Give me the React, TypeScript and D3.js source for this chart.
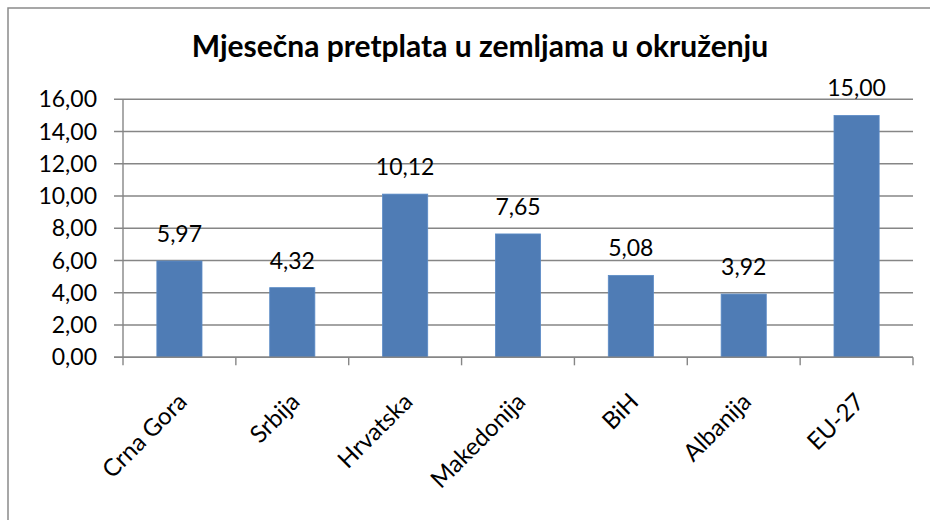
import React, { useEffect, useRef } from 'react'
import * as d3 from 'd3'

const categories = ['Crna Gora', 'Srbija', 'Hrvatska', 'Makedonija', 'BiH', 'Albanija', 'EU-27']
const values = [5.97, 4.32, 10.12, 7.65, 5.08, 3.92, 15.0]
const yTicks = [0, 2, 4, 6, 8, 10, 12, 14, 16]
const title = 'Mjesečna pretplata u zemljama u okruženju'

const W = 930
const H = 520
const FONT = 'Lato, "Open Sans", sans-serif'

export default function App() {
  const svgRef = useRef<SVGSVGElement>(null)

  useEffect(() => {
    if (!svgRef.current) return
    const svg = d3.select(svgRef.current)
    svg.selectAll('*').remove()

    const left = 123
    const right = 913
    const top = 99.3
    const bottom = 357.3
    const fmt = (v: number) => v.toFixed(2).replace('.', ',')

    // Outer chart frame (only top and left edges fall inside the picture)
    svg
      .append('rect')
      .attr('x', 8)
      .attr('y', 8)
      .attr('width', 1000)
      .attr('height', 1000)
      .attr('fill', '#fff')
      .attr('stroke', '#8a8a8a')
      .attr('stroke-width', 1.5)

    svg
      .append('text')
      .attr('x', 480)
      .attr('y', 57)
      .attr('text-anchor', 'middle')
      .attr('font-family', FONT)
      .attr('font-weight', 'bold')
      .attr('font-size', 30)
      .attr('fill', '#000')
      .text(title)

    const x = d3.scaleBand<string>().domain(categories).range([left, right]).paddingInner(0.6).paddingOuter(0.3)
    const y = d3.scaleLinear().domain([0, 16]).range([bottom, top])
    const step = x.step()

    const grid = svg.append('g')
    yTicks.forEach((t) => {
      grid
        .append('line')
        .attr('x1', left - 9)
        .attr('x2', right)
        .attr('y1', y(t))
        .attr('y2', y(t))
        .attr('stroke', '#868686')
        .attr('stroke-width', 1.4)
      grid
        .append('text')
        .attr('x', 97)
        .attr('y', y(t))
        .attr('dy', '0.35em')
        .attr('text-anchor', 'end')
        .attr('font-family', FONT)
        .attr('font-size', 23)
        .attr('fill', '#000')
        .text(fmt(t))
    })

    // y axis line
    svg
      .append('line')
      .attr('x1', left)
      .attr('x2', left)
      .attr('y1', top)
      .attr('y2', bottom)
      .attr('stroke', '#868686')
      .attr('stroke-width', 1.4)

    // category tick marks at boundaries
    d3.range(categories.length + 1).forEach((i) => {
      const xx = left + i * step
      svg
        .append('line')
        .attr('x1', xx)
        .attr('x2', xx)
        .attr('y1', bottom)
        .attr('y2', bottom + 8)
        .attr('stroke', '#868686')
        .attr('stroke-width', 1.4)
    })

    svg
      .append('g')
      .selectAll('rect')
      .data(values)
      .join('rect')
      .attr('x', (_, i) => x(categories[i])!)
      .attr('width', x.bandwidth())
      .attr('y', (d) => y(d))
      .attr('height', (d) => bottom - y(d))
      .attr('fill', '#4f7cb5')
      .attr('stroke', '#5b8bc6')
      .attr('stroke-width', 0.8)

    svg
      .append('g')
      .selectAll('text')
      .data(values)
      .join('text')
      .attr('x', (_, i) => x(categories[i])! + x.bandwidth() / 2)
      .attr('y', (d) => y(d) - 19)
      .attr('text-anchor', 'middle')
      .attr('font-family', FONT)
      .attr('font-size', 23)
      .attr('fill', '#000')
      .text((d) => fmt(d))

    svg
      .append('g')
      .selectAll('text')
      .data(categories)
      .join('text')
      .attr('transform', (c) => {
        const cx = x(c)! + x.bandwidth() / 2 + 9
        return `translate(${cx},${bottom + 46}) rotate(-45)`
      })
      .attr('text-anchor', 'end')
      .attr('font-family', FONT)
      .attr('font-size', 24)
      .attr('fill', '#000')
      .text((c) => c)

    // bottom axis line on top of bars
    svg
      .append('line')
      .attr('x1', left - 9)
      .attr('x2', right)
      .attr('y1', bottom)
      .attr('y2', bottom)
      .attr('stroke', '#868686')
      .attr('stroke-width', 1.4)
  }, [])

  return (
    <div style={{ position: 'fixed', left: 0, top: 0 }}>
      <svg ref={svgRef} width={W} height={H} style={{ display: 'block' }} />
    </div>
  )
}
